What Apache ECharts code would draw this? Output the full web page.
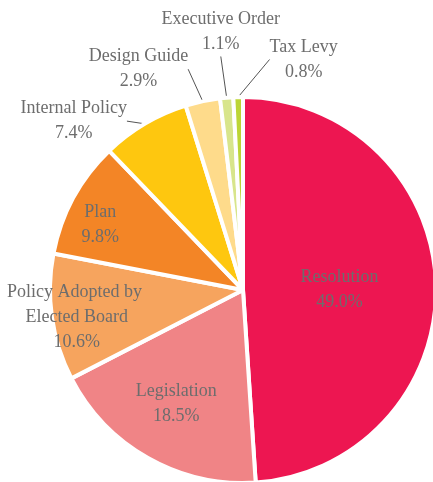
<!DOCTYPE html>
<html><head><meta charset="utf-8">
<script src="https://cdn.jsdelivr.net/npm/echarts@6/dist/echarts.min.js"></script>
<style>html,body{margin:0;padding:0;background:#fff}#c{width:433px;height:482px}</style>
</head><body><div id="c"></div>
<script>
const categories = ['Resolution','Legislation','Policy Adopted by Elected Board','Plan','Internal Policy','Design Guide','Executive Order','Tax Levy'];
const shares = [49.0,18.5,10.6,9.8,7.4,2.9,1.1,0.8];
const colors = ['#ED1651','#F08486','#F6A45E','#F38526','#FEC70F','#FEDB8B','#D8E58B','#BCD535'];
// label placement styling: distance (fraction of radius) and angular shift (deg)
const labelDist = [0.5,0.67,0.87,0.82,1.25,1.28,1.36,1.25];
const labelShift = [0,-1.6,0,3,14,13,0,-16];
const outside = [false,false,false,false,true,true,true,true];

const CX = 243, CY = 290, R = 193;
const FONT = 'Liberation Serif';
const total = shares.reduce((a,b)=>a+b,0);
const midAngles = [];
let acc = 0;
shares.forEach(v => { midAngles.push(90 - (acc + v/2)/total*360); acc += v; });

const chart = echarts.init(document.getElementById('c'), null, {renderer:'canvas'});
chart.setOption({
  backgroundColor:'#fff',
  animation:false,
  series:[{
    type:'pie',
    center:[CX,CY],
    radius:[0,R],
    startAngle:90,
    clockwise:true,
    avoidLabelOverlap:false,
    itemStyle:{borderColor:'#fff',borderWidth:4},
    label:{
      formatter: p => p.name + '\n' + p.value.toFixed(1) + '%',
      fontFamily:FONT,
      fontSize:18,
      lineHeight:25,
      color:'#6d6d6d',
      align:'center'
    },
    labelLine:{lineStyle:{color:'#555',width:1},length:10,length2:0},
    labelLayout: function(p){
      const i = p.dataIndex;
      const a = (midAngles[i] + labelShift[i]) * Math.PI/180;
      const d = labelDist[i]*R;
      return {x: CX + d*Math.cos(a), y: CY - d*Math.sin(a) + 3, align:'center', verticalAlign:'middle', hideOverlap:false};
    },
    data: categories.map((n,i)=>{
      const lab = {position: outside[i]?'outside':'inside'};
      if (i===2) { lab.width = 150; lab.overflow = 'break'; }
      return {name:n, value:shares[i], itemStyle:{color:colors[i]}, label:lab, labelLine:{show: outside[i]}};
    })
  }]
});
</script></body></html>
